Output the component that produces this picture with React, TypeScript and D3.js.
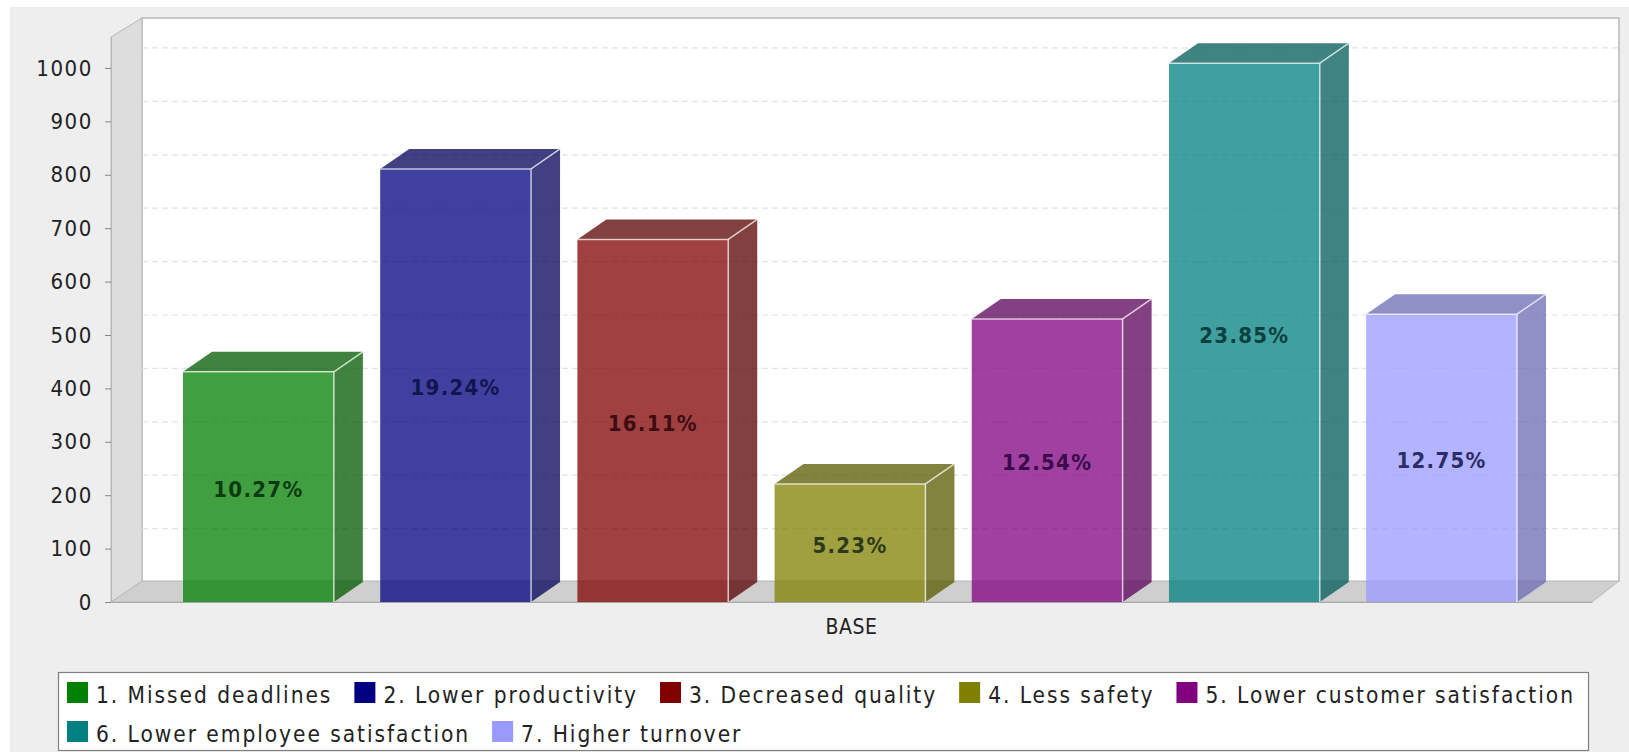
import React, { useEffect, useRef } from 'react';
import * as d3 from 'd3';

const categories = [
  '1. Missed deadlines',
  '2. Lower productivity',
  '3. Decreased quality',
  '4. Less safety',
  '5. Lower customer satisfaction',
  '6. Lower employee satisfaction',
  '7. Higher turnover',
];
const values = [431, 811, 679, 221, 530, 1009, 539];
const percents = ['10.27%', '19.24%', '16.11%', '5.23%', '12.54%', '23.85%', '12.75%'];
const colors = ['#008000', '#000080', '#800000', '#808000', '#800080', '#008080', '#9999ff'];
const labelColors = ['#0d3a12', '#14144f', '#3d0d14', '#2c3a1c', '#3a0a4a', '#0c3f3f', '#2c2c66'];
const yTicks = [0, 100, 200, 300, 400, 500, 600, 700, 800, 900, 1000];
const axisCategory = ['BASE'];

const WIDTH = 1629;
const HEIGHT = 752;
const FONT = '"DejaVu Sans Condensed", "DejaVu Sans", sans-serif';

// depth of the fake 3d box
const wallDx = 31;
const wallDy = 20;
const barDx = 29;
const barDy = 20;

const App: React.FC = () => {
  const svgRef = useRef<SVGSVGElement>(null);

  useEffect(() => {
    if (!svgRef.current) return;
    const svg = d3.select(svgRef.current);
    svg.selectAll('*').remove();

    const left = 111;
    const right = 1592;
    const bottom = 602;
    const top = 37;

    const y = d3.scaleLinear().domain([0, 1058]).range([bottom, top]);
    const x = d3.scaleBand<string>().domain(categories).range([183, 1517]).paddingInner(0.235).paddingOuter(0);
    const xAxisScale = d3.scaleBand<string>().domain(axisCategory).range([left, right]);
    const poly = (pts: number[][]) => pts.map(p => p.join(',')).join(' ');

    // page
    svg.append('rect').attr('x', 10).attr('y', 7).attr('width', WIDTH - 10).attr('height', HEIGHT - 7).attr('fill', '#eeeeee');

    // back wall
    svg.append('rect')
      .attr('x', left + wallDx).attr('y', top - wallDy + 1)
      .attr('width', right + 27 - left - wallDx)
      .attr('height', bottom - top)
      .attr('fill', '#ffffff');
    svg.append('polyline')
      .attr('points', poly([[left + wallDx, bottom - wallDy], [left + wallDx, top - wallDy + 1], [right + 27, top - wallDy + 1], [right + 27, bottom - wallDy]]))
      .attr('fill', 'none').attr('stroke', '#b8b8b8').attr('stroke-width', 1.5);

    // left wall
    svg.append('polygon')
      .attr('points', poly([[left, top], [left + wallDx, top - wallDy + 1], [left + wallDx, bottom - wallDy], [left, bottom]]))
      .attr('fill', '#dddddd').attr('stroke', '#b8b8b8').attr('stroke-width', 1);

    // grid on back wall
    svg.append('g').selectAll('line')
      .data(yTicks.filter(t => t > 0))
      .join('line')
      .attr('x1', left + wallDx).attr('x2', right + 27)
      .attr('y1', d => y(d) - wallDy).attr('y2', d => y(d) - wallDy)
      .attr('stroke', '#e2e2e2').attr('stroke-width', 1.2).attr('stroke-dasharray', '6 4');

    // floor
    svg.append('polygon')
      .attr('points', poly([[left, bottom], [left + wallDx, bottom - wallDy - 1], [right + 27, bottom - wallDy - 1], [right, bottom]]))
      .attr('fill', '#cfcfcf').attr('stroke', '#b8b8b8').attr('stroke-width', 1);

    // bars
    const bars = svg.append('g').selectAll('g')
      .data(categories)
      .join('g');
    const bw = x.bandwidth();

    bars.each(function (name, i) {
      const g = d3.select(this);
      const x0 = x(name)!;
      const x1 = x0 + bw;
      const yt = y(values[i]);
      const base = d3.rgb(colors[i]);
      const shade = d3.rgb(base.r * 0.7, base.g * 0.7, base.b * 0.7).formatHex();

      g.append('polygon')
        .attr('points', poly([[x0, yt], [x0 + barDx, yt - barDy], [x1 + barDx, yt - barDy], [x1, yt]]))
        .attr('fill', shade).attr('fill-opacity', 0.75);
      g.append('polygon')
        .attr('points', poly([[x1, yt], [x1 + barDx, yt - barDy], [x1 + barDx, bottom - barDy], [x1, bottom]]))
        .attr('fill', shade).attr('fill-opacity', 0.75);
      g.append('rect')
        .attr('x', x0).attr('y', yt).attr('width', bw).attr('height', bottom - yt)
        .attr('fill', colors[i]).attr('fill-opacity', 0.75);

      // light edges
      g.append('polyline')
        .attr('points', poly([[x0, yt], [x1, yt], [x1, bottom]]))
        .attr('fill', 'none').attr('stroke', '#ffffff').attr('stroke-opacity', 0.7).attr('stroke-width', 1.5);
      g.append('line')
        .attr('x1', x1).attr('y1', yt).attr('x2', x1 + barDx).attr('y2', yt - barDy)
        .attr('stroke', '#ffffff').attr('stroke-opacity', 0.7).attr('stroke-width', 1.5);

      g.append('text')
        .attr('x', (x0 + x1) / 2)
        .attr('y', (yt + bottom) / 2 + 2)
        .attr('dy', '0.36em')
        .attr('text-anchor', 'middle')
        .attr('font-family', FONT)
        .attr('font-size', 22)
        .attr('font-weight', 'bold')
        .attr('letter-spacing', 1.3)
        .attr('fill', labelColors[i])
        .text(percents[i]);
    });

    // y axis
    const yAxis = svg.append('g')
      .attr('transform', `translate(${left},0)`)
      .call(d3.axisLeft(y).tickValues(yTicks).tickFormat(d => String(d)).tickSize(6).tickSizeOuter(0).tickPadding(12));
    yAxis.select('.domain').attr('stroke', '#b8b8b8');
    yAxis.selectAll('.tick line').attr('stroke', '#888888');
    yAxis.selectAll('.tick text')
      .attr('font-family', FONT).attr('font-size', 22).attr('letter-spacing', 1.6).attr('fill', '#222222');

    // x axis
    const xAxis = svg.append('g')
      .attr('transform', `translate(0,${bottom})`)
      .call(d3.axisBottom(xAxisScale).tickSize(0).tickPadding(17));
    xAxis.select('.domain').attr('stroke', '#a8a8a8');
    xAxis.selectAll('.tick text')
      .attr('font-family', FONT).attr('font-size', 21).attr('letter-spacing', 0.6).attr('fill', '#222222');

    // legend, flowed from the measured text widths
    const legend = svg.append('g');
    legend.append('rect')
      .attr('x', 58.5).attr('y', 672.5).attr('width', 1530).attr('height', 78)
      .attr('fill', '#ffffff').attr('stroke', '#808080').attr('stroke-width', 1.2);

    let cx = 67;
    let row = 0;
    const rowTop = [682, 721];
    categories.forEach((name, i) => {
      const item = legend.append('g');
      const text = item.append('text')
        .attr('x', 29).attr('y', 21)
        .attr('font-family', FONT).attr('font-size', 22.5).attr('letter-spacing', 1.95)
        .attr('fill', '#222222')
        .text(name);
      item.append('rect')
        .attr('x', 0).attr('y', 0).attr('width', 21).attr('height', 21)
        .attr('fill', colors[i]);
      const w = 29 + (text.node() as SVGTextElement).getComputedTextLength();
      if (cx + w > 1585) {
        cx = 67;
        row += 1;
      }
      item.attr('transform', `translate(${cx},${rowTop[row]})`);
      cx += w + 22;
    });
  }, []);

  return (
    <svg
      ref={svgRef}
      width={WIDTH}
      height={HEIGHT}
      viewBox={`0 0 ${WIDTH} ${HEIGHT}`}
      style={{ position: 'fixed', left: 0, top: 0, background: '#ffffff' }}
    />
  );
};

export default App;
